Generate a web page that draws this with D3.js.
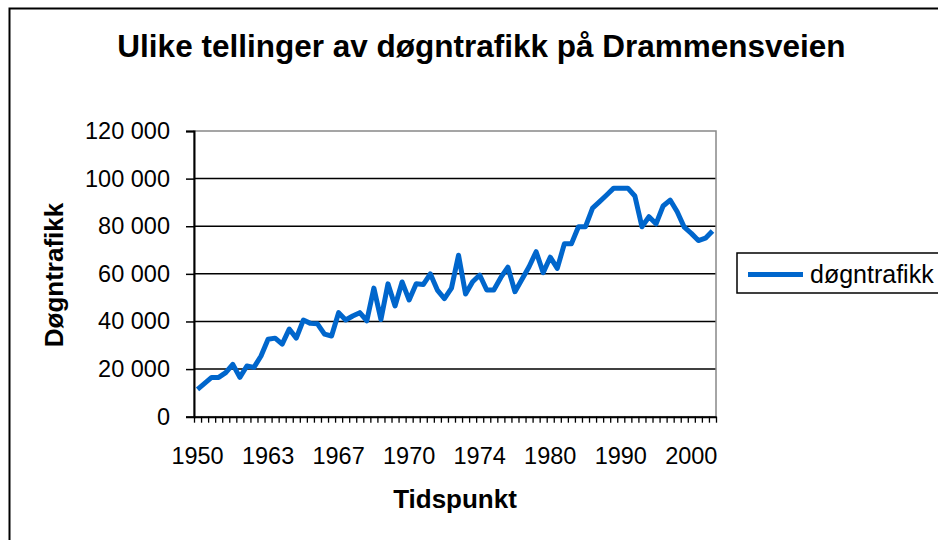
<!DOCTYPE html>
<html>
<head>
<meta charset="utf-8">
<script src="https://cdn.jsdelivr.net/npm/d3@7.9.0/dist/d3.min.js"></script>
<style>
  body { margin: 0; background: #fff; }
  svg { display: block; font-family: "Liberation Sans", Arial, sans-serif; }
</style>
</head>
<body>
<svg id="chart" width="938" height="540"></svg>
<script>
// døgntrafikk per telling (74 tellinger)
const values = [
  11500, 14000, 16500, 16500, 18500, 22000, 16500, 21300, 20700, 25500,
  32500, 33000, 30500, 36800, 33000, 40600, 39200, 39000, 34700, 33900,
  43700, 40600, 42300, 43700, 40300, 54000, 40800, 55800, 46500, 56600,
  49000, 55800, 55500, 60000, 53200, 49600, 54000, 67800, 51500, 56700,
  59500, 53200, 53200, 58500, 62800, 52500, 57700, 63000, 69300, 60500,
  67000, 62300, 72600, 72600, 79800, 79800, 87600, 90300, 93100, 96000,
  96000, 96000, 92700, 79800, 84000, 81000, 88500, 91000, 86100, 79600,
  77000, 74000, 75000, 78000
];
// labels shown on every 10th category
const tickLabels = ["1950", "1963", "1967", "1970", "1974", "1980", "1990", "2000"];
const labelEvery = 10;
const yTicks = [0, 20000, 40000, 60000, 80000, 100000, 120000];
const seriesName = "døgntrafikk";

const svg = d3.select('#chart');
const color = '#0066cc';

// outer chart border (runs off the right and bottom)
svg.append('rect')
  .attr('x', 9.5).attr('y', 8.5)
  .attr('width', 940).attr('height', 540)
  .attr('fill', 'none').attr('stroke', '#000').attr('stroke-width', 2);

let x = d3.scaleLinear().domain([0, values.length]).range([194, 716]);
let y = d3.scaleLinear().domain([0, 120000]).range([416.7, 131]);

let fmt = d3.formatLocale({ decimal: ',', thousands: ' ', grouping: [3], currency: ['', ''] }).format(',');

// gridlines
svg.append('g')
  .selectAll('line')
  .data(yTicks.filter((d) => d > 0 && d < 120000))
  .join('line')
  .attr('x1', x(0)).attr('x2', x(values.length))
  .attr('y1', (d) => y(d)).attr('y2', (d) => y(d))
  .attr('stroke', '#000').attr('stroke-width', 1.5);

// plot area border
svg.append('rect')
  .attr('x', x(0)).attr('y', y(120000))
  .attr('width', x(values.length) - x(0)).attr('height', y(0) - y(120000))
  .attr('fill', 'none').attr('stroke', '#888').attr('stroke-width', 1.5);

// y axis
let yAxis = svg.append('g')
  .attr('transform', `translate(${x(0)},0)`)
  .call(d3.axisLeft(y).tickValues(yTicks).tickSize(8).tickPadding(16).tickFormat(fmt));
yAxis.select('.domain').attr('stroke', '#000').attr('stroke-width', 2);
yAxis.selectAll('.tick line').attr('stroke', '#000').attr('stroke-width', 1.5);
yAxis.selectAll('text').attr('font-size', 23.5).attr('fill', '#000');
yAxis.attr('font-family', null);

// x axis, ticks between categories
let xAxis = svg.append('g')
  .attr('transform', `translate(0,${y(0)})`)
  .call(d3.axisBottom(x).tickValues(d3.range(0, values.length + 1)).tickSize(6).tickSizeOuter(0).tickFormat(''));
xAxis.select('.domain').attr('stroke', '#000').attr('stroke-width', 2);
xAxis.selectAll('.tick line').attr('stroke', '#000').attr('stroke-width', 1.3);

svg.append('g')
  .selectAll('text')
  .data(tickLabels)
  .join('text')
  .attr('x', (d, i) => x(i * labelEvery + 0.5))
  .attr('y', 463.5)
  .attr('text-anchor', 'middle')
  .attr('font-size', 23.5)
  .text((d) => d);

// the line
let line = d3.line()
  .x((d, i) => x(i + 0.5))
  .y((d) => y(d));

svg.append('path')
  .datum(values)
  .attr('d', line)
  .attr('fill', 'none')
  .attr('stroke', color)
  .attr('stroke-width', 5)
  .attr('stroke-linejoin', 'round');

// titles
svg.append('text')
  .attr('x', 481.5).attr('y', 57)
  .attr('text-anchor', 'middle')
  .attr('font-size', 31.5).attr('font-weight', 'bold')
  .text('Ulike tellinger av døgntrafikk på Drammensveien');

svg.append('text')
  .attr('x', 455).attr('y', 508)
  .attr('text-anchor', 'middle')
  .attr('font-size', 26).attr('font-weight', 'bold')
  .text('Tidspunkt');

svg.append('text')
  .attr('transform', 'translate(63,275) rotate(-90)')
  .attr('text-anchor', 'middle')
  .attr('font-size', 26).attr('font-weight', 'bold')
  .text('Døgntrafikk');

// legend
let legend = svg.append('g');
legend.append('rect')
  .attr('x', 737).attr('y', 253)
  .attr('width', 220).attr('height', 40)
  .attr('fill', '#fff').attr('stroke', '#000').attr('stroke-width', 1.5);
legend.append('line')
  .attr('x1', 748).attr('x2', 803)
  .attr('y1', 274.5).attr('y2', 274.5)
  .attr('stroke', color).attr('stroke-width', 5);
legend.append('text')
  .attr('x', 810).attr('y', 283)
  .attr('font-size', 25)
  .text(seriesName);
</script>
</body>
</html>
